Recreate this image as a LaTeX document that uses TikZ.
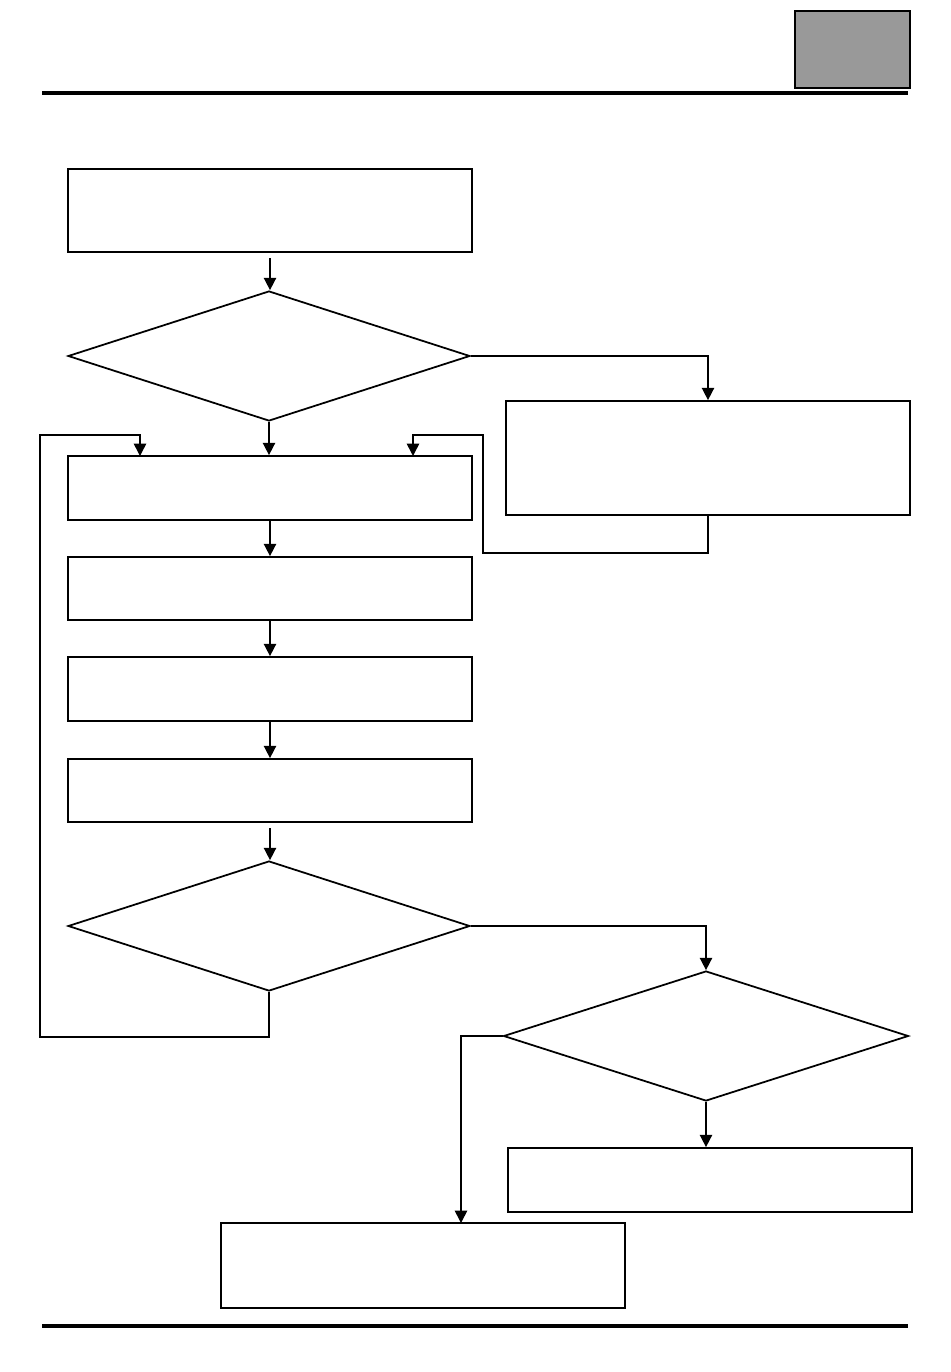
\documentclass[tikz,border=0pt]{standalone}
\usetikzlibrary{shapes.geometric,arrows.meta}

\tikzset{
  stepbox/.style={draw, line width=1pt, inner sep=0pt},
  decide/.style={draw, diamond, line width=1pt, inner sep=0pt},
  arr/.style={line width=0.9pt, -{Triangle[length=7pt,width=7pt]}},
  link/.style={line width=0.9pt}
}

\begin{document}
\begin{tikzpicture}[x=0.02cm, y=-0.02cm, line join=miter]
  \useasboundingbox (0,0) rectangle (950,1372); % page box

  % --- header and footer ---
  \node[draw, line width=1.6pt, fill=black!40, minimum width=2.3cm, minimum height=1.54cm, inner sep=0pt] (tab) at (852.5,49.5) {};
  \draw[line width=2.3pt] (42,93) -- (908,93);
  \draw[line width=2.3pt] (42,1326) -- (908,1326);

  % --- boxes and decisions ---
  \node[stepbox, minimum width=8.08cm, minimum height=1.66cm] (start) at (270,210.5) {};
  \node[decide, minimum width=8.04cm, minimum height=2.6cm] (d1) at (269,356) {};
  \node[stepbox, minimum width=8.08cm, minimum height=2.28cm] (side) at (708,458) {};
  \node[stepbox, minimum width=8.08cm, minimum height=1.28cm] (s1) at (270,488) {};
  \node[stepbox, minimum width=8.08cm, minimum height=1.26cm] (s2) at (270,588.5) {};
  \node[stepbox, minimum width=8.08cm, minimum height=1.28cm] (s3) at (270,689) {};
  \node[stepbox, minimum width=8.08cm, minimum height=1.26cm] (s4) at (270,790.5) {};
  \node[decide, minimum width=8.04cm, minimum height=2.6cm] (d2) at (269,926) {};
  \node[decide, minimum width=8.1cm, minimum height=2.6cm] (d3) at (706,1036) {};
  \node[stepbox, minimum width=8.08cm, minimum height=1.28cm] (done) at (710,1180) {};
  \node[stepbox, minimum width=8.08cm, minimum height=1.7cm] (fail) at (423,1265.5) {};

  % --- loop corners ---
  \coordinate (rlow) at (483,553);
  \coordinate (rtop) at (483,435);
  \coordinate (rin)  at (413,456);
  \coordinate (llow) at (40,1037);
  \coordinate (ltop) at (40,435);
  \coordinate (lin)  at (140,456);
  \coordinate (fin)  at (461,1223);

  % --- connectors ---
  \draw[arr] ([yshift=-3pt]start.south) -- (start.south |- d1.north);
  \draw[arr] (d1.east) -| (side.north);
  \draw[arr] (d1.south) -- (d1.south |- s1.north);
  \draw[arr] (side.south) |- (rlow) -- (rtop) -| (rin);
  \draw[arr] (s1.south) -- (s2.north);
  \draw[arr] (s2.south) -- (s3.north);
  \draw[arr] (s3.south) -- (s4.north);
  \draw[arr] ([yshift=-3pt]s4.south) -- (s4.south |- d2.north);
  \draw[arr] (d2.south) |- (llow) -- (ltop) -| (lin);
  \draw[arr] (d2.east) -| (d3.north);
  \draw[arr] (d3.south) -- (d3.south |- done.north);
  \draw[arr] (d3.west) -| (fin);
\end{tikzpicture}
\end{document}
